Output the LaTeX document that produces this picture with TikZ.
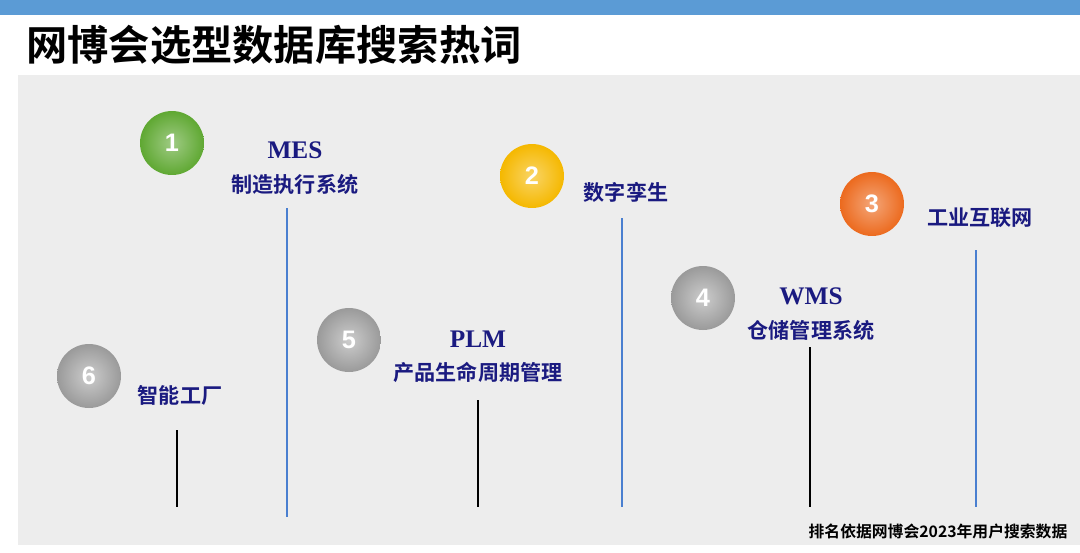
\documentclass[tikz,border=0pt]{standalone}
\usepackage{fontspec}
\newfontfamily\cjk{Noto Sans CJK SC}[BoldFont={Noto Sans CJK SC Bold}]
\setmainfont{Liberation Serif}
\setsansfont{Liberation Sans}
\usetikzlibrary{positioning}
\definecolor{barblue}{HTML}{5B9BD5}
\definecolor{panel}{HTML}{EDEDED}
\definecolor{navy}{HTML}{1A1A80}
\definecolor{lineblue}{HTML}{4A7FD0}
\definecolor{ballgreen}{HTML}{5FA832}
\definecolor{ballyellow}{HTML}{F5B800}
\definecolor{ballorange}{HTML}{EC6A1E}
\definecolor{ballgray}{HTML}{9A9A9A}
\tikzstyle{ball} = [circle, minimum size=1.28cm, inner sep=0pt, text=white, font=\sffamily\bfseries\Large, shading=radial]
\tikzstyle{label} = [text=navy, font=\bfseries\Large, align=center, inner sep=0pt]
\tikzstyle{stem} = [line width=0.6pt]
\begin{document}
\begin{tikzpicture}[x=0.02cm,y=-0.02cm]
\useasboundingbox (0,0) rectangle (1080,552);
\fill[white] (0,0) rectangle (1080,552);
\fill[barblue] (0,0) rectangle (1080,15);
\node (title) [anchor=west, font=\cjk\bfseries\fontsize{23.5}{26}\selectfont] at (20,45) {网博会选型数据库搜索热词};
\fill[panel] (18,75) rectangle (1080,545);
% balls
\node (one) [ball, inner color=ballgreen!60!white, outer color=ballgreen] at (172,143) {1};
\node (two) [ball, inner color=ballyellow!60!white, outer color=ballyellow] at (532,176) {2};
\node (three) [ball, inner color=ballorange!60!white, outer color=ballorange] at (872,204) {3};
\node (four) [ball, inner color=ballgray!50!white, outer color=ballgray] at (703,298) {4};
\node (five) [ball, inner color=ballgray!50!white, outer color=ballgray] at (349,340) {5};
\node (six) [ball, inner color=ballgray!50!white, outer color=ballgray] at (89,376) {6};
% labels
\node (mes) [label] at (295,168) {MES\\[1pt]{\cjk\bfseries\large 制造执行系统}};
\node (twin) [label, font=\cjk\bfseries\large] at (626,192) {数字孪生};
\node (iiot) [label, font=\cjk\bfseries\large] at (980,218) {工业互联网};
\node (wms) [label] at (811,314) {WMS\\[1pt]{\cjk\bfseries\large 仓储管理系统}};
\node (plm) [label] at (478,357) {PLM\\[1pt]{\cjk\bfseries\large 产品生命周期管理}};
\node (fab) [label, font=\cjk\bfseries\large] at (180,395) {智能工厂};
% stems
\coordinate (mesA) at (287,208); \coordinate (mesB) at (287,517);
\coordinate (twinA) at (622,218); \coordinate (twinB) at (622,507);
\coordinate (iiotA) at (976,250); \coordinate (iiotB) at (976,507);
\coordinate (wmsA) at (810,347); \coordinate (wmsB) at (810,507);
\coordinate (plmA) at (478,400); \coordinate (plmB) at (478,507);
\coordinate (fabA) at (177,430); \coordinate (fabB) at (177,507);
\draw [stem, lineblue] (mesA) -- (mesB);
\draw [stem, lineblue] (twinA) -- (twinB);
\draw [stem, lineblue] (iiotA) -- (iiotB);
\draw [stem, black] (wmsA) -- (wmsB);
\draw [stem, black] (plmA) -- (plmB);
\draw [stem, black] (fabA) -- (fabB);
\node (note) [font=\cjk\bfseries\small] at (938,531) {排名依据网博会2023年用户搜索数据};
\end{tikzpicture}
\end{document}
